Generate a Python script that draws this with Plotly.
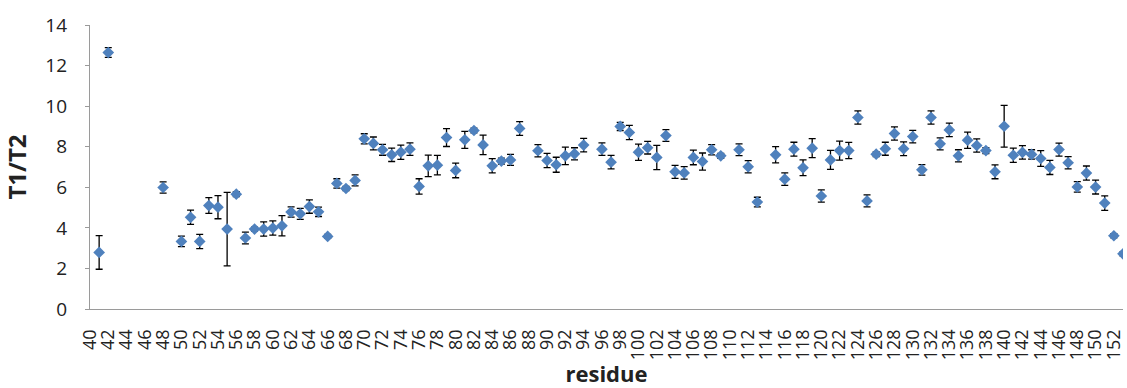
import plotly.graph_objects as go

residues = [41, 42, 48, 50, 51, 52, 53, 54, 55, 56, 57, 58, 59, 60, 61, 62, 63, 64, 65, 66,
            67, 68, 69, 70, 71, 72, 73, 74, 75, 76, 77, 78, 79, 80, 81, 82, 83, 84, 85, 86,
            87, 89, 90, 91, 92, 93, 94, 96, 97, 98, 99, 100, 101, 102, 103, 104, 105, 106,
            107, 108, 109, 111, 112, 113, 115, 116, 117, 118, 119, 120, 121, 122, 123, 124,
            125, 126, 127, 128, 129, 130, 131, 132, 133, 134, 135, 136, 137, 138, 139, 140,
            141, 142, 143, 144, 145, 146, 147, 148, 149, 150, 151, 152, 153]

t1_t2 = [2.79, 12.64, 5.99, 3.33, 4.52, 3.33, 5.10, 5.02, 3.94, 5.66, 3.50, 3.94, 3.94, 3.99,
         4.10, 4.78, 4.69, 5.05, 4.79, 3.58, 6.19, 5.94, 6.34, 8.39, 8.16, 7.85, 7.60, 7.73,
         7.88, 6.04, 7.06, 7.09, 8.45, 6.83, 8.34, 8.80, 8.09, 7.06, 7.29, 7.35, 8.90, 7.80,
         7.32, 7.11, 7.55, 7.65, 8.08, 7.88, 7.24, 9.00, 8.70, 7.73, 7.95, 7.47, 8.55, 6.76,
         6.71, 7.47, 7.27, 7.85, 7.55, 7.85, 7.01, 5.27, 7.60, 6.40, 7.88, 6.96, 7.93, 5.57,
         7.35, 7.81, 7.81, 9.44, 5.33, 7.63, 7.90, 8.65, 7.90, 8.50, 6.86, 9.44, 8.14, 8.83,
         7.55, 8.32, 8.06, 7.81, 6.76, 9.01, 7.58, 7.72, 7.62, 7.42, 6.98, 7.86, 7.21, 6.02,
         6.70, 6.01, 5.22, 3.61, 2.72]

errors = [0.83, 0.24, 0.28, 0.26, 0.35, 0.35, 0.39, 0.57, 1.81, 0.12, 0.29, 0.10, 0.35, 0.35,
          0.50, 0.25, 0.27, 0.33, 0.23, 0.10, 0.23, 0.10, 0.27, 0.25, 0.32, 0.27, 0.33, 0.35,
          0.31, 0.38, 0.53, 0.48, 0.44, 0.36, 0.42, 0.12, 0.48, 0.35, 0.15, 0.27, 0.34, 0.30,
          0.35, 0.37, 0.43, 0.30, 0.33, 0.31, 0.33, 0.20, 0.35, 0.40, 0.31, 0.60, 0.29, 0.32,
          0.31, 0.36, 0.42, 0.25, 0.12, 0.29, 0.30, 0.24, 0.40, 0.31, 0.34, 0.39, 0.47, 0.30,
          0.47, 0.47, 0.40, 0.33, 0.30, 0.12, 0.32, 0.33, 0.34, 0.31, 0.26, 0.33, 0.30, 0.33,
          0.30, 0.40, 0.33, 0.15, 0.34, 1.03, 0.35, 0.33, 0.23, 0.39, 0.35, 0.32, 0.30, 0.26,
          0.35, 0.34, 0.36, 0.10, 0.10]

x_tick_values = list(range(40, 153, 2))
y_tick_values = list(range(0, 15, 2))

fig = go.Figure()
fig.add_trace(go.Scatter(
    x=residues, y=t1_t2, mode="markers",
    marker=dict(symbol="diamond", size=9, color="#4F81BD"),
    error_y=dict(type="data", array=errors, visible=True, color="#000000",
                 thickness=1.3, width=3.5),
    showlegend=False,
))

font_family = "Open Sans"
fig.update_layout(
    width=1127, height=388,
    margin=dict(l=90, r=4, t=25, b=79, autoexpand=False),
    paper_bgcolor="white", plot_bgcolor="white",
    font=dict(family=font_family, color="#222222"),
    xaxis=dict(
        range=[40, 153], tickmode="array", tickvals=x_tick_values,
        ticktext=[str(v) for v in x_tick_values],
        tickangle=-90, tickfont=dict(size=18, family=font_family, color="#222222"),
        showgrid=False, zeroline=False, showline=True, linecolor="#9a9a9a", linewidth=1.3,
        ticks="", ticklabelstandoff=12, automargin=False,
        title=dict(text="<b>residue</b>", font=dict(size=22, family=font_family, color="#222222"),
                   standoff=0),
    ),
    yaxis=dict(
        range=[0, 14], tickmode="array", tickvals=y_tick_values,
        tickfont=dict(size=19, family=font_family, color="#222222"),
        showgrid=False, zeroline=False, showline=True, linecolor="#9a9a9a", linewidth=1.3,
        ticks="outside", ticklen=4, tickcolor="#9a9a9a", ticklabelstandoff=14,
        automargin=False,
        title=dict(text="<b>T1/T2</b>", font=dict(size=24, family=font_family, color="#222222"),
                   standoff=12),
    ),
)

fig.write_html("out.html", config={"displayModeBar": False},
               post_script="document.body.style.margin='0';document.body.style.padding='0';")
